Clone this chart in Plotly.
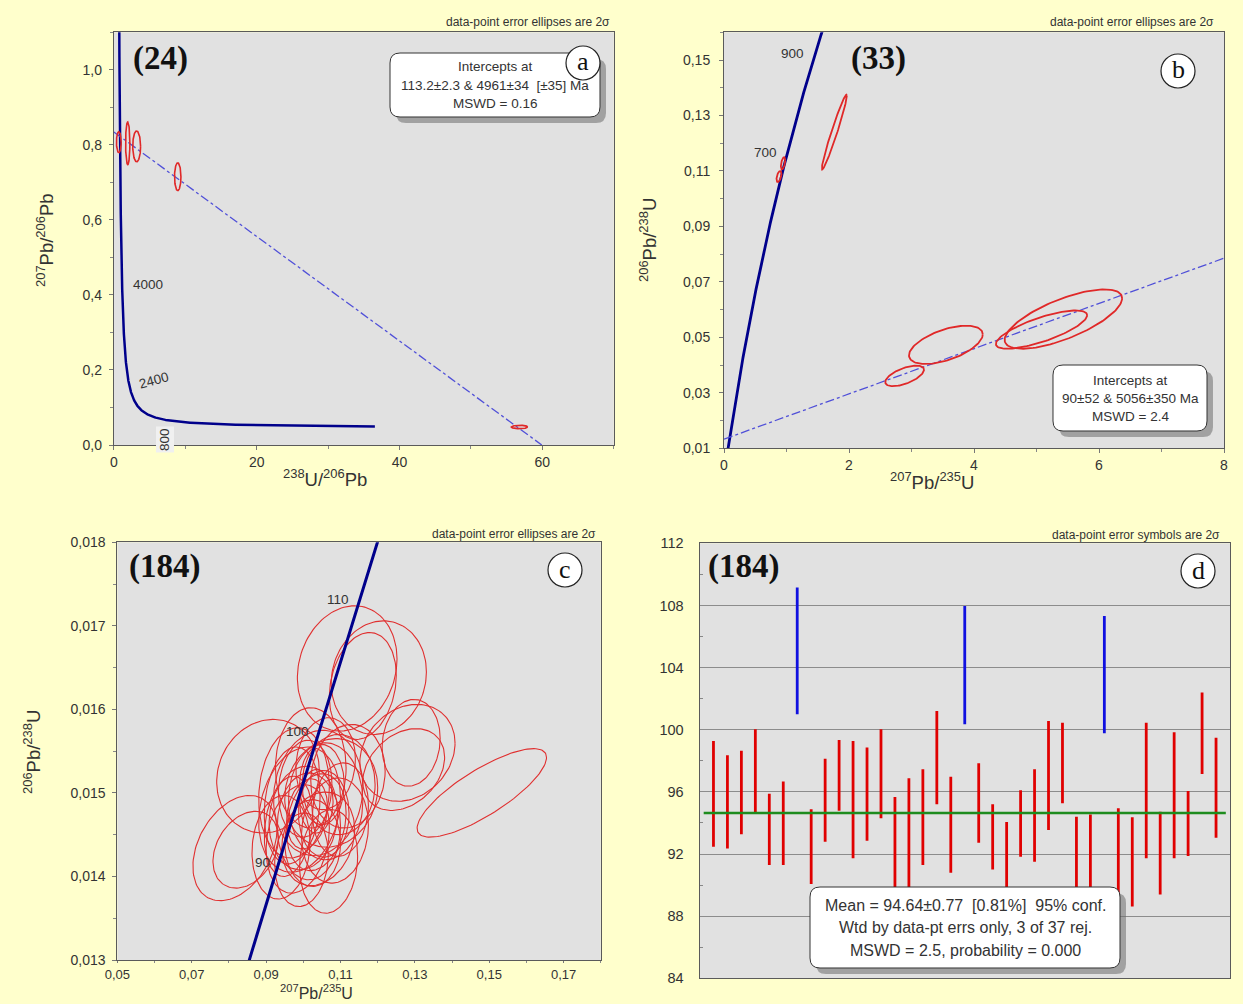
import numpy as np
import plotly.graph_objects as go

W, H = 1243, 1004

# Decay constants (1/yr) and present-day 238U/235U
L238 = 1.55125e-10
L235 = 9.8485e-10
U85 = 137.88

# ---------- (a) Tera-Wasserburg, 24 analyses ----------
a_cx = [0.70, 1.95, 3.20, 8.95, 56.8]
a_cy = [0.807, 0.804, 0.796, 0.715, 0.048]
a_sx = [0.33, 0.30, 0.55, 0.45, 1.15]
a_sy = [0.028, 0.057, 0.041, 0.037, 0.0045]
a_rho = [0.0, 0.0, 0.0, 0.0, 0.0]
a_intercepts_ma = [113.2, 4961]
a_curve_ages_ma = [174, 5600]
a_age_labels = ["4000", "2400", "800"]

# ---------- (b) Wetherill concordia, 33 analyses ----------
b_cx = [0.88, 0.945, 1.765, 2.89, 3.55, 5.43, 5.08]
b_cy = [0.108, 0.1128, 0.124, 0.0361, 0.0473, 0.0566, 0.0528]
b_sx = [0.04, 0.035, 0.20, 0.31, 0.59, 0.94, 0.73]
b_sy = [0.0020, 0.0022, 0.0135, 0.0037, 0.0069, 0.0107, 0.0069]
b_rho = [0.5, 0.5, 0.97, 0.6, 0.55, 0.7, 0.75]
b_intercepts_ma = [90, 5056]
b_curve_ages_ma = [60, 1000]
b_age_labels = ["900", "700"]

# ---------- (c) Wetherill concordia, 184 sample ----------
c_cx = [0.1118, 0.1203, 0.1160, 0.1280, 0.1290, 0.1270, 0.1480, 0.0816, 0.0845,
        0.0905, 0.1040, 0.1060, 0.1000, 0.1035, 0.1055, 0.0990, 0.1075, 0.1068,
        0.0985, 0.1020, 0.1095, 0.1005, 0.0960, 0.1085, 0.1120, 0.1025, 0.0975,
        0.1050, 0.1010, 0.1040, 0.0940, 0.1100, 0.1035, 0.0995, 0.1060, 0.1015,
        0.0970]
c_cy = [0.01649, 0.01638, 0.01628, 0.01548, 0.01560, 0.01528, 0.01500, 0.01434,
        0.01432, 0.01520, 0.01500, 0.01490, 0.01470, 0.01465, 0.01475, 0.01480,
        0.01500, 0.01418, 0.01445, 0.01530, 0.01510, 0.01505, 0.01460, 0.01455,
        0.01520, 0.01440, 0.01500, 0.01510, 0.01475, 0.01445, 0.01435, 0.01480,
        0.01490, 0.01420, 0.01535, 0.01460, 0.01485]
c_sx = [0.0134, 0.0128, 0.0090, 0.0128, 0.0078, 0.0110, 0.0174, 0.0113, 0.0088,
        0.0138, 0.0120, 0.0100, 0.0092, 0.0080, 0.0068, 0.0110, 0.0125, 0.0078,
        0.0085, 0.0095, 0.0098, 0.0072, 0.0065, 0.0090, 0.0100, 0.0075, 0.0095,
        0.0060, 0.0055, 0.0098, 0.0078, 0.0075, 0.0045, 0.0072, 0.0080, 0.0085,
        0.0075]
c_sy = [0.00075, 0.00068, 0.00064, 0.00058, 0.00052, 0.00049, 0.00053, 0.00063,
        0.00046, 0.00068, 0.00075, 0.00070, 0.00062, 0.00058, 0.00052, 0.00075,
        0.00065, 0.00062, 0.00065, 0.00072, 0.00060, 0.00058, 0.00060, 0.00063,
        0.00062, 0.00052, 0.00078, 0.00048, 0.00042, 0.00056, 0.00062, 0.00056,
        0.00038, 0.00056, 0.00055, 0.00064, 0.00070]
c_rho = [0.15, 0.1, 0.2, 0.2, 0.1, 0.3, 0.8, 0.35, 0.3, 0.1, 0.1, 0.0, 0.1, 0.2,
         0.0, 0.2, 0.1, 0.1, 0.2, 0.0, 0.0, 0.1, 0.2, 0.1, 0.1, 0.0, 0.1, 0.0,
         0.2, 0.2, 0.1, 0.1, 0.0, 0.1, 0.1, 0.0, 0.15]
c_curve_ages_ma = [80, 120]
c_age_labels = ["110", "100", "90"]

# ---------- (d) weighted mean 206Pb/238U ages (Ma), 2-sigma boxes ----------
d_hi = [99.27, 98.35, 98.65, 100.03, 95.88, 96.66, 109.15, 94.88, 98.14, 99.34,
        99.27, 98.85, 100.03, 95.67, 96.87, 97.45, 101.20, 96.98, 107.97, 97.84,
        95.20, 94.06, 96.10, 97.45, 100.56, 100.45, 94.40, 94.55, 107.32, 94.95,
        94.37, 100.45, 94.72, 99.83, 96.06, 102.39, 99.49]
d_lo = [92.47, 92.36, 93.27, 94.62, 91.29, 91.29, 101.00, 90.07, 92.79, 94.79,
        91.72, 92.86, 94.30, 88.70, 89.20, 91.29, 95.20, 90.80, 100.35, 92.73,
        91.00, 88.50, 91.83, 91.50, 93.55, 95.26, 88.20, 88.60, 99.77, 89.24,
        88.62, 91.72, 89.40, 91.72, 91.87, 97.15, 93.05]
d_rejected = [7, 19, 29]
d_mean = 94.64

BG = "#FFFFCC"
PLOT_BG = "#E1E1E1"
RED = "#E02828"
NAVY = "#00008B"
TXT = "#333333"
SANS = "Liberation Sans, Arial, sans-serif"
SERIF = "Liberation Serif, Times New Roman, serif"


def X(px):
    return px / W


def Y(py):
    return 1 - py / H


def ellipses(cx, cy, sx, sy, rho, n=120):
    t = np.linspace(0, 2 * np.pi, n)
    xs, ys = [], []
    for x0, y0, a, b, r in zip(cx, cy, sx, sy, rho):
        xs += list(x0 + a * np.cos(t)) + [None]
        ys += list(y0 + b * (r * np.cos(t) + np.sqrt(1 - r * r) * np.sin(t))) + [None]
    return xs, ys


def tw_point(age_ma):
    t = np.asarray(age_ma, dtype=float) * 1e6
    e8 = np.exp(L238 * t) - 1
    e5 = np.exp(L235 * t) - 1
    return 1 / e8, e5 / (U85 * e8)


def weth_point(age_ma):
    t = np.asarray(age_ma, dtype=float) * 1e6
    return np.exp(L235 * t) - 1, np.exp(L238 * t) - 1


fig = go.Figure()

# ----- panel a -----
ages = np.geomspace(a_curve_ages_ma[0], a_curve_ages_ma[1], 600)
cx_, cy_ = tw_point(ages)
fig.add_trace(go.Scatter(x=cx_, y=cy_, mode="lines", line=dict(color=NAVY, width=2.5),
                         xaxis="x", yaxis="y", hoverinfo="skip"))
(px1, px2), (py1, py2) = tw_point(a_intercepts_ma)
slope = (py2 - py1) / (px2 - px1)
y_at0 = py2 - slope * px2
x_at0 = -y_at0 / slope
fig.add_trace(go.Scatter(x=[0, x_at0], y=[y_at0, 0], mode="lines",
                         line=dict(color="#5050D8", width=1.3, dash="dashdot"),
                         xaxis="x", yaxis="y", hoverinfo="skip"))
ex, ey = ellipses(a_cx, a_cy, a_sx, a_sy, a_rho)
fig.add_trace(go.Scatter(x=ex, y=ey, mode="lines", line=dict(color=RED, width=1.6),
                         xaxis="x", yaxis="y", hoverinfo="skip"))

# ----- panel b -----
ages = np.linspace(b_curve_ages_ma[0], b_curve_ages_ma[1], 400)
bx_, by_ = weth_point(ages)
fig.add_trace(go.Scatter(x=bx_, y=by_, mode="lines", line=dict(color=NAVY, width=2.8),
                         xaxis="x2", yaxis="y2", hoverinfo="skip"))
(qx1, qx2), (qy1, qy2) = weth_point(b_intercepts_ma)
bslope = (qy2 - qy1) / (qx2 - qx1)
fig.add_trace(go.Scatter(x=[0, 8], y=[qy1 - bslope * qx1, qy1 + bslope * (8 - qx1)],
                         mode="lines", line=dict(color="#5050D8", width=1.3, dash="dashdot"),
                         xaxis="x2", yaxis="y2", hoverinfo="skip"))
ex, ey = ellipses(b_cx, b_cy, b_sx, b_sy, b_rho)
fig.add_trace(go.Scatter(x=ex, y=ey, mode="lines", line=dict(color=RED, width=1.8),
                         xaxis="x2", yaxis="y2", hoverinfo="skip"))

# ----- panel c -----
ex, ey = ellipses(c_cx, c_cy, c_sx, c_sy, c_rho)
fig.add_trace(go.Scatter(x=ex, y=ey, mode="lines", line=dict(color="#E03030", width=1.1),
                         xaxis="x3", yaxis="y3", hoverinfo="skip"))
ages = np.linspace(c_curve_ages_ma[0], c_curve_ages_ma[1], 200)
ccx, ccy = weth_point(ages)
fig.add_trace(go.Scatter(x=ccx, y=ccy, mode="lines", line=dict(color=NAVY, width=3),
                         xaxis="x3", yaxis="y3", hoverinfo="skip"))

# ----- panel d -----
idx = list(range(1, len(d_hi) + 1))
colors = ["#1010E0" if i in d_rejected else "#E00000" for i in idx]
fig.add_trace(go.Bar(x=idx, base=d_lo, y=[h - l for h, l in zip(d_hi, d_lo)],
                     width=0.2, marker=dict(color=colors, line=dict(width=0)),
                     xaxis="x4", yaxis="y4", hoverinfo="skip"))
fig.add_trace(go.Scatter(x=[0.3, len(d_hi) + 0.7], y=[d_mean, d_mean], mode="lines",
                         line=dict(color="#1E8C1E", width=2.5),
                         xaxis="x4", yaxis="y4", hoverinfo="skip"))

tickfont = dict(family=SANS, size=14, color=TXT)
common = dict(showgrid=False, zeroline=False, showline=True, linecolor="#5A5A5A",
              linewidth=1, mirror=True, ticks="outside", tickcolor="#777",
              automargin=False)


def minor(dt, ln=3):
    return dict(dtick=dt, ticks="outside", ticklen=ln, tickcolor="#888", showgrid=False)


fig.update_layout(
    width=W, height=H, margin=dict(l=0, r=0, t=0, b=0, autoexpand=False),
    paper_bgcolor=BG, plot_bgcolor=PLOT_BG, showlegend=False,
    separators=",.", barmode="overlay",
    xaxis=dict(domain=[X(113.8), X(613.8)], range=[0, 70], tickvals=[0, 20, 40, 60],
               tickformat="d", minor=minor(10), anchor="y", tickfont=tickfont,
               ticklen=4, **common),
    yaxis=dict(domain=[Y(445), Y(32.3)], range=[0, 1.1], dtick=0.2, tickformat=".1f",
               minor=minor(0.1), anchor="x", ticklabelstandoff=4, tickfont=tickfont,
               ticklen=4, **common),
    xaxis2=dict(domain=[X(724), X(1224)], range=[0, 8], dtick=2, tickformat="d",
                minor=minor(1), anchor="y2", tickfont=tickfont, ticklen=4, **common),
    yaxis2=dict(domain=[Y(448.3), Y(32.3)], range=[0.01, 0.16], tick0=0.01, dtick=0.02,
                tickformat=".2f", minor=minor(0.01), anchor="x2", ticklabelstandoff=6,
                tickfont=tickfont, ticklen=4, **common),
    xaxis3=dict(domain=[X(117.4), X(600.8)], range=[0.05, 0.18], tick0=0.05, dtick=0.02,
                tickformat=".2f", minor=minor(0.01, 2), anchor="y3", ticklen=2,
                tickfont=dict(family=SANS, size=13, color=TXT), **common),
    yaxis3=dict(domain=[Y(960), Y(542.3)], range=[0.013, 0.018], dtick=0.001,
                tickformat=".3f", minor=minor(0.0005), anchor="x3", ticklabelstandoff=4,
                tickfont=tickfont, ticklen=4, **common),
    xaxis4=dict(domain=[X(699.5), X(1230)], range=[0, 38], showticklabels=False,
                showgrid=False, zeroline=False, showline=True, linecolor="#5A5A5A",
                mirror=True, ticks="", anchor="y4", automargin=False),
    yaxis4=dict(domain=[Y(978.3), Y(543.3)], range=[84, 112], dtick=4, tickformat="d",
                showgrid=True, gridcolor="#8C8C8C", gridwidth=1, zeroline=False,
                showline=True, linecolor="#5A5A5A", mirror=True, ticks="", anchor="x4",
                tickfont=dict(family=SANS, size=14.5, color=TXT), ticklabelstandoff=12,
                automargin=False,
                minor=dict(dtick=2, ticks="inside", ticklen=3, tickcolor="#888",
                           showgrid=False)),
)

ann = []


def text(px, py, s, size=11, xanchor="center", family=SANS, color=TXT,
         yanchor="middle", **kw):
    ann.append(dict(x=X(px), y=Y(py), xref="paper", yref="paper", text=s,
                    showarrow=False, xanchor=xanchor, yanchor=yanchor,
                    font=dict(family=family, size=size, color=color), **kw))


# header notes
text(612, 22, "data-point error ellipses are 2σ", size=12, xanchor="right")
text(1216, 22, "data-point error ellipses are 2σ", size=12, xanchor="right")
text(598, 534, "data-point error ellipses are 2σ", size=12, xanchor="right")
text(1222, 535, "data-point error symbols are 2σ", size=12, xanchor="right")

# sample numbers
text(160, 59, "<b>(24)</b>", size=33, family=SERIF, color="#111")
text(878, 59, "<b>(33)</b>", size=33, family=SERIF, color="#111")
text(164, 566, "<b>(184)</b>", size=33, family=SERIF, color="#111")
text(743, 566, "<b>(184)</b>", size=33, family=SERIF, color="#111")

# axis titles
text(325, 478, "<sup>238</sup>U/<sup>206</sup>Pb", size=18.5)
text(45, 240, "<sup>207</sup>Pb/<sup>206</sup>Pb", size=18.5, textangle=-90)
text(932, 481, "<sup>207</sup>Pb/<sup>235</sup>U", size=18.5)
text(648, 240, "<sup>206</sup>Pb/<sup>238</sup>U", size=18.5, textangle=-90)
text(316, 1003, "<sup>207</sup>Pb/<sup>235</sup>U", size=16, yanchor="bottom",
     borderpad=0)
text(32, 752, "<sup>206</sup>Pb/<sup>238</sup>U", size=18.5, textangle=-90)

# concordia age labels
def dlabel(xr, yr, x, y, s, **kw):
    ann.append(dict(x=x, y=y, xref=xr, yref=yr, text=s, showarrow=False,
                    font=dict(family=SANS, size=13.5, color=TXT), **kw))


dlabel("x", "y", 4.75, 0.427, a_age_labels[0])
dlabel("x", "y", 5.6, 0.171, a_age_labels[1], textangle=-15)
dlabel("x", "y", 7.2, 0.014, a_age_labels[2], textangle=-90, bgcolor="#F0F0F0")
dlabel("x2", "y2", 1.1, 0.1525, b_age_labels[0])
dlabel("x2", "y2", 0.656, 0.1168, b_age_labels[1])
dlabel("x3", "y3", 0.1092, 0.01731, c_age_labels[0])
dlabel("x3", "y3", 0.0984, 0.01573, c_age_labels[1])
dlabel("x3", "y3", 0.0890, 0.01417, c_age_labels[2])

shapes = []


def rbox(x0, y0, x1, y1, r=10):
    def seg(xs, ys):
        return f"{X(xs):.5f},{Y(ys):.5f}"
    path = (f"M {seg(x0 + r, y0)} L {seg(x1 - r, y0)} Q {seg(x1, y0)} {seg(x1, y0 + r)} "
            f"L {seg(x1, y1 - r)} Q {seg(x1, y1)} {seg(x1 - r, y1)} "
            f"L {seg(x0 + r, y1)} Q {seg(x0, y1)} {seg(x0, y1 - r)} "
            f"L {seg(x0, y0 + r)} Q {seg(x0, y0)} {seg(x0 + r, y0)} Z")
    return path


def info_box(x0, y0, x1, y1, lines, size, line_gap):
    shapes.append(dict(type="path", path=rbox(x0 + 6, y0 + 6, x1 + 6, y1 + 6),
                       xref="paper", yref="paper", fillcolor="rgba(110,110,110,0.55)",
                       line=dict(width=0), layer="above"))
    shapes.append(dict(type="path", path=rbox(x0, y0, x1, y1), xref="paper",
                       yref="paper", fillcolor="white", line=dict(color="#333", width=1),
                       layer="above"))
    cx = (x0 + x1) / 2
    cy = (y0 + y1) / 2
    n = len(lines)
    for i, s in enumerate(lines):
        text(cx, cy + (i - (n - 1) / 2) * line_gap, s, size=size)


def badge(cx, cy, r, letter):
    shapes.append(dict(type="circle", xref="paper", yref="paper",
                       x0=X(cx - r), x1=X(cx + r), y0=Y(cy + r), y1=Y(cy - r),
                       fillcolor="white", line=dict(color="#222", width=1.2),
                       layer="above"))
    text(cx, cy - 1, letter, size=26, family=SERIF, color="#111")


info_box(390, 53, 600, 117,
         ["Intercepts at", "113.2±2.3 & 4961±34  [±35] Ma", "MSWD = 0.16"], 13.5, 18)
info_box(1053, 365, 1207, 431,
         ["Intercepts at", "90±52 & 5056±350 Ma", "MSWD = 2.4"], 13.5, 18)
info_box(810, 887, 1120, 968,
         ["Mean = 94.64±0.77  [0.81%]  95% conf.",
          "Wtd by data-pt errs only, 3 of 37 rej.",
          "MSWD = 2.5, probability = 0.000"], 16, 22.5)

badge(583, 63, 17, "a")
badge(1178, 71, 17, "b")
badge(565, 570, 17, "c")
badge(1198, 571, 17, "d")

fig.update_layout(annotations=ann, shapes=shapes)
fig.write_html("out.html")
